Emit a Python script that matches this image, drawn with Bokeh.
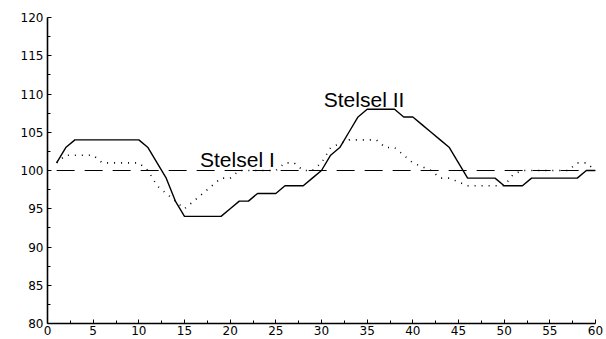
from bokeh.plotting import figure
from bokeh.models import FixedTicker, Range1d, Label
from bokeh.embed import file_html
from bokeh.resources import INLINE

# --- data ---
x_vals = list(range(1, 61))

solid_series = [101, 103, 104, 104, 104, 104, 104, 104, 104, 104,
                103, 101, 99, 96, 94, 94, 94, 94, 94, 95,
                96, 96, 97, 97, 97, 98, 98, 98, 99, 100,
                102, 103, 105, 107, 108, 108, 108, 108, 107, 107,
                106, 105, 104, 103, 101, 99, 99, 99, 99, 98,
                98, 98, 99, 99, 99, 99, 99, 99, 100, 100]

dotted_series = [101, 102, 102, 102, 102, 101, 101, 101, 101, 101,
                 100, 98, 97, 96, 95, 96, 97, 98, 99, 99,
                 100, 100, 100, 100, 100, 101, 101, 100, 100, 101,
                 103, 103.5, 104, 104, 104, 104, 103, 103, 102, 101,
                 100.5, 100, 99, 99, 98.5, 98, 98, 98, 98, 98,
                 99.5, 100, 100, 100, 100, 100, 100, 101, 101, 100]

reference_x = [1, 60]
reference_y = [100, 100]

x_ticks = [0, 5, 10, 15, 20, 25, 30, 35, 40, 45, 50, 55, 60]
y_ticks = [80, 85, 90, 95, 100, 105, 110, 115, 120]

labels = ["Stelsel I", "Stelsel II"]
label_x = [16.7, 30.25]
label_y = [101.5, 109.25]

# --- figure ---
p = figure(width=606, height=339, output_backend="svg", toolbar_location=None,
           x_range=Range1d(0, 60), y_range=Range1d(80, 120),
           min_border_left=47, min_border_right=11,
           min_border_top=17, min_border_bottom=16)
p.outline_line_color = None
p.xgrid.visible = False
p.ygrid.visible = False
p.background_fill_color = "white"
p.border_fill_color = "white"

p.line(reference_x, reference_y, line_color="black", line_width=1.2, line_dash="18 10")
p.line(x_vals, dotted_series, line_color="black", line_width=1.6, line_dash="1 6")
p.line(x_vals, solid_series, line_color="black", line_width=1.4)

for t, lx, ly in zip(labels, label_x, label_y):
    p.add_layout(Label(x=lx, y=ly, text=t, text_font="Liberation Sans",
                       text_font_size="21px", text_color="black",
                       text_baseline="alphabetic", text_align="left"))

for ax in (p.xaxis[0], p.yaxis[0]):
    ax.axis_line_color = "black"
    ax.axis_line_width = 1.6
    ax.major_tick_line_color = "black"
    ax.minor_tick_line_color = "black"
    ax.major_tick_in = 4
    ax.major_tick_out = 0
    ax.minor_tick_in = 3
    ax.minor_tick_out = 0
    ax.major_label_text_font = "DejaVu Sans"
    ax.major_label_text_font_size = "12px"
    ax.major_label_text_color = "black"

p.xaxis[0].ticker = FixedTicker(ticks=x_ticks, minor_ticks=[v + 2.5 for v in x_ticks[:-1]])
p.yaxis[0].ticker = FixedTicker(ticks=y_ticks, minor_ticks=[v + 2.5 for v in y_ticks[:-1]])
p.xaxis[0].major_label_standoff = 2
p.yaxis[0].major_label_standoff = 4

open("out.html", "w").write(file_html(p, INLINE))
